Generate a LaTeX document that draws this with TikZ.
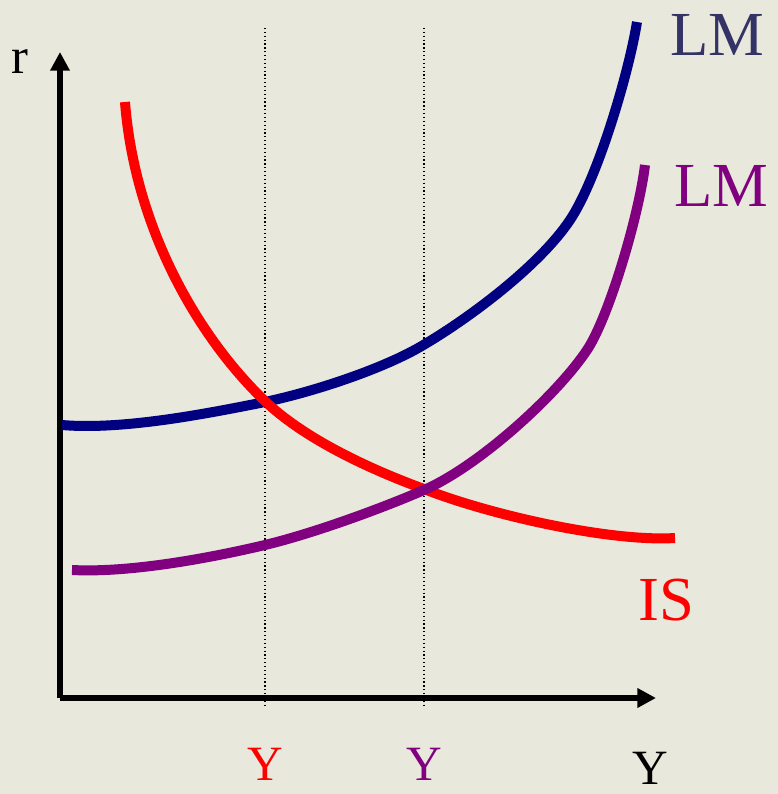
\documentclass[tikz,border=0pt]{standalone}
\usepackage{fontspec}
\setmainfont{Liberation Serif}
\usetikzlibrary{arrows.meta}
\definecolor{bg}{HTML}{E8E8DC}
\definecolor{lmblue}{HTML}{000080}
\definecolor{lmpurple}{HTML}{800080}
\definecolor{isred}{HTML}{FF0000}
\definecolor{lmtext}{HTML}{333366}
\tikzset{
  axis/.style={line width=4pt, -{Triangle[length=14pt,width=14pt]}},
  guide/.style={line width=0.9pt, dotted},
  curve/.style={line width=7.5pt},
  lbl/.style={inner sep=0pt, anchor=center},
}
\begin{document}
\begin{tikzpicture}[x=0.75pt,y=-0.75pt]
\useasboundingbox[fill=bg] (0,0) rectangle (778,794);
% guides
\coordinate (g1t) at (265,28); \coordinate (g1b) at (265,708);
\coordinate (g2t) at (424,28); \coordinate (g2b) at (424,708);
\draw[guide] (g1t) -- (g1b);
\draw[guide] (g2t) -- (g2b);
% axes
\coordinate (o) at (60,698);
\coordinate (ytip) at (60,52);
\coordinate (xtip) at (656,698);
\draw[axis] (o) -- (ytip);
\draw[axis] (o) -- (xtip);
% curves
\draw[lmblue, curve] (62,425) .. controls (120,430) and (200,415) .. (260,403)
  .. controls (310,393) and (380,370) .. (420,347)
  .. controls (470,318) and (540,265) .. (570,220)
  .. controls (598,178) and (629,72) .. (637,22);
\draw[isred, curve] (125,102) .. controls (135,230) and (200,340) .. (267,403)
  .. controls (310,443) and (380,473) .. (424,489)
  .. controls (490,515) and (610,542) .. (675,538);
\draw[lmpurple, curve] (72,570) .. controls (130,573) and (210,558) .. (265,545)
  .. controls (315,533) and (385,507) .. (424,490)
  .. controls (479,466) and (557,395) .. (587,350)
  .. controls (609,317) and (639,215) .. (645,165);
% labels
\node[lbl, font=\fontsize{38pt}{40pt}\selectfont] (r) at (20,62) {r};
\node[lbl, text=lmtext, font=\fontsize{47pt}{50pt}\selectfont] (lm1) at (717,35) {LM};
\node[lbl, text=lmpurple, font=\fontsize{47pt}{50pt}\selectfont] (lm2) at (721,186) {LM};
\node[lbl, text=isred, font=\fontsize{47pt}{50pt}\selectfont] (is) at (666,600) {IS};
\node[lbl, text=isred, font=\fontsize{37pt}{40pt}\selectfont] (y1) at (265,764) {Y};
\node[lbl, text=lmpurple, font=\fontsize{37pt}{40pt}\selectfont] (y2) at (424,764) {Y};
\node[lbl, font=\fontsize{37pt}{40pt}\selectfont] (y3) at (650,768) {Y};
\end{tikzpicture}
\end{document}
